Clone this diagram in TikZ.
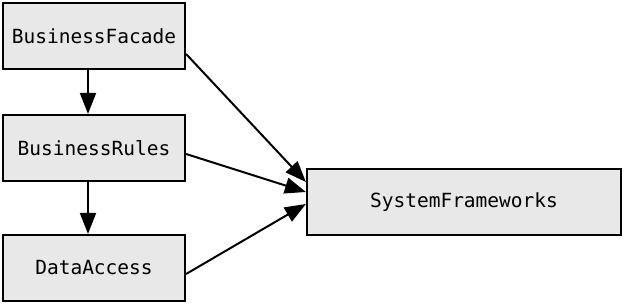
\documentclass[tikz,border=0pt]{standalone}
\usepackage{fontspec}
\setmonofont{DejaVu Sans Mono}
\usetikzlibrary{arrows.meta}
\begin{document}
\begin{tikzpicture}[x=1pt,y=-1pt,
    layer/.style={draw,line width=2.2pt,fill=black!9,minimum width=182pt,minimum height=66pt,
      font=\ttfamily\fontsize{19.5}{22}\selectfont,inner sep=0pt},
    dep/.style={line width=2pt,-{Triangle[length=21pt,width=16pt]}}]
     \useasboundingbox (0,0) rectangle (624,304);
     \node[layer] (facade) at (94,36){BusinessFacade};
     \node[layer] (rules) at (94,148){BusinessRules};
     \node[layer] (data) at (94,268){DataAccess};
     \node[layer,minimum width=314pt] (frameworks) at (464,202){SystemFrameworks};

     \draw[dep] ([xshift=-6pt]facade.south) -- ([xshift=-6pt]rules.north);
     \draw[dep] ([xshift=-6pt]rules.south) -- ([xshift=-6pt]data.north);
     \draw[dep] ([yshift=-18pt]facade.east) -- ([yshift=20pt]frameworks.west);
     \draw[dep] ([yshift=-6pt]rules.east) -- ([yshift=10pt]frameworks.west);
     \draw[dep] ([yshift=-6pt]data.east) -- ([yshift=-2pt]frameworks.west);

     \end{tikzpicture}
\end{document}
